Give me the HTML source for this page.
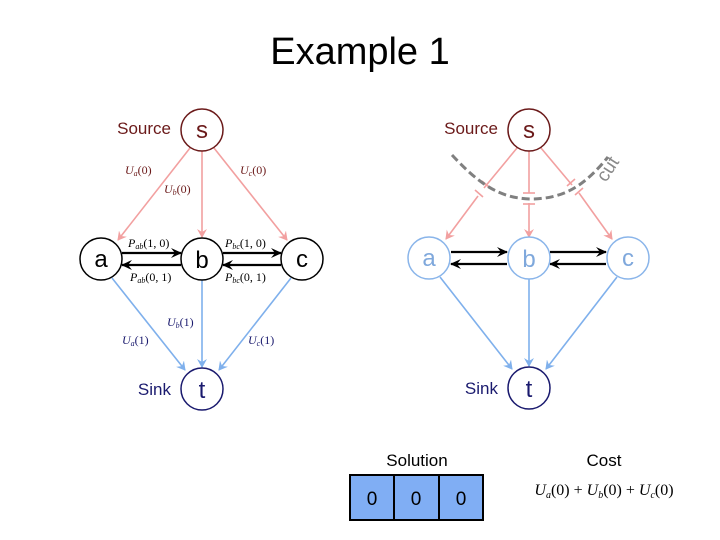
<!DOCTYPE html>
<html><head><meta charset="utf-8"><style>
html,body{margin:0;padding:0;background:#fff;}
svg{display:block;}
</style></head><body>
<svg width="720" height="540" viewBox="0 0 720 540" xmlns="http://www.w3.org/2000/svg" font-family="Liberation Sans, sans-serif">
<defs>
<marker id="ap" markerWidth="10" markerHeight="10" refX="8" refY="5" orient="auto" markerUnits="userSpaceOnUse"><path d="M0,0 L9,5 L0,10 L3,5 z" fill="#f2a0a0"/></marker>
<marker id="ab" markerWidth="10" markerHeight="10" refX="8" refY="5" orient="auto" markerUnits="userSpaceOnUse"><path d="M0,0 L9,5 L0,10 L3,5 z" fill="#7fb0ec"/></marker>
<marker id="ak" markerWidth="12" markerHeight="10" refX="10" refY="5" orient="auto" markerUnits="userSpaceOnUse"><path d="M0,0 L11,5 L0,10 L4,5 z" fill="#000"/></marker>
</defs>
<text x="360" y="64" font-size="38" text-anchor="middle" font-family="Liberation Sans, sans-serif" fill="#000">Example 1</text>

<!-- LEFT GRAPH -->
<g stroke-width="1.6" fill="none">
<line x1="190" y1="148" x2="118" y2="240" stroke="#f2a0a0" marker-end="url(#ap)"/>
<line x1="202" y1="151" x2="202" y2="237" stroke="#f2a0a0" marker-end="url(#ap)"/>
<line x1="214" y1="148" x2="287" y2="240" stroke="#f2a0a0" marker-end="url(#ap)"/>
<line x1="112" y1="278" x2="185" y2="370" stroke="#7fb0ec" marker-end="url(#ab)"/>
<line x1="202" y1="280" x2="202" y2="367" stroke="#7fb0ec" marker-end="url(#ab)"/>
<line x1="291" y1="278" x2="219" y2="370" stroke="#7fb0ec" marker-end="url(#ab)"/>
<line x1="122" y1="253" x2="181" y2="253" stroke="#000" stroke-width="2.2" marker-end="url(#ak)"/>
<line x1="181" y1="265" x2="122" y2="265" stroke="#000" stroke-width="2.2" marker-end="url(#ak)"/>
<line x1="223" y1="253" x2="281" y2="253" stroke="#000" stroke-width="2.2" marker-end="url(#ak)"/>
<line x1="281" y1="265" x2="223" y2="265" stroke="#000" stroke-width="2.2" marker-end="url(#ak)"/>
</g>
<g fill="#fff" stroke-width="1.5">
<circle cx="202" cy="130" r="21" stroke="#6b1a1a"/>
<circle cx="101" cy="259" r="21" stroke="#000"/>
<circle cx="202" cy="259" r="21" stroke="#000"/>
<circle cx="302" cy="259" r="21" stroke="#000"/>
<circle cx="202" cy="389" r="21" stroke="#1a1a6e"/>
</g>
<g font-size="24" text-anchor="middle">
<text x="202" y="138" fill="#6b1a1a">s</text>
<text x="101" y="267" fill="#000">a</text>
<text x="202" y="268" fill="#000">b</text>
<text x="302" y="267" fill="#000">c</text>
<text x="202" y="398" fill="#1a1a6e">t</text>
</g>
<text x="171" y="134" font-size="17" text-anchor="end" fill="#6b1a1a">Source</text>
<text x="171" y="395" font-size="17" text-anchor="end" fill="#1a1a6e">Sink</text>
<g font-family="Liberation Serif, serif" font-style="italic" font-size="12">
<text x="125" y="174" fill="#6b1a1a">U<tspan font-size="8" dy="2">a</tspan><tspan dy="-2" font-style="normal">(0)</tspan></text>
<text x="164" y="193" fill="#6b1a1a">U<tspan font-size="8" dy="2">b</tspan><tspan dy="-2" font-style="normal">(0)</tspan></text>
<text x="240" y="174" fill="#6b1a1a">U<tspan font-size="8" dy="2">c</tspan><tspan dy="-2" font-style="normal">(0)</tspan></text>
<text x="128" y="247" fill="#000">P<tspan font-size="8" dy="2">ab</tspan><tspan dy="-2" font-style="normal">(1, 0)</tspan></text>
<text x="130" y="281" fill="#000">P<tspan font-size="8" dy="2">ab</tspan><tspan dy="-2" font-style="normal">(0, 1)</tspan></text>
<text x="225" y="247" fill="#000">P<tspan font-size="8" dy="2">bc</tspan><tspan dy="-2" font-style="normal">(1, 0)</tspan></text>
<text x="225" y="281" fill="#000">P<tspan font-size="8" dy="2">bc</tspan><tspan dy="-2" font-style="normal">(0, 1)</tspan></text>
<text x="167" y="326" fill="#1a1a6e">U<tspan font-size="8" dy="2">b</tspan><tspan dy="-2" font-style="normal">(1)</tspan></text>
<text x="122" y="344" fill="#1a1a6e">U<tspan font-size="8" dy="2">a</tspan><tspan dy="-2" font-style="normal">(1)</tspan></text>
<text x="248" y="344" fill="#1a1a6e">U<tspan font-size="8" dy="2">c</tspan><tspan dy="-2" font-style="normal">(1)</tspan></text>
</g>

<!-- RIGHT GRAPH -->
<g stroke-width="1.6" fill="none">
<line x1="517" y1="148" x2="484" y2="188" stroke="#f2a0a0"/>
<line x1="478" y1="196" x2="446" y2="239" stroke="#f2a0a0" marker-end="url(#ap)"/>
<line x1="482" y1="181" x2="490" y2="188" stroke="#f2a0a0"/>
<line x1="475" y1="190" x2="483" y2="197" stroke="#f2a0a0"/>
<line x1="529" y1="150" x2="529" y2="193" stroke="#f2a0a0"/>
<line x1="529" y1="203" x2="529" y2="237" stroke="#f2a0a0" marker-end="url(#ap)"/>
<line x1="523" y1="193" x2="535" y2="193" stroke="#f2a0a0"/>
<line x1="523" y1="204" x2="535" y2="204" stroke="#f2a0a0"/>
<line x1="541" y1="148" x2="572" y2="185" stroke="#f2a0a0"/>
<line x1="579" y1="193" x2="612" y2="239" stroke="#f2a0a0" marker-end="url(#ap)"/>
<line x1="567" y1="186" x2="575" y2="179" stroke="#f2a0a0"/>
<line x1="575" y1="195" x2="583" y2="188" stroke="#f2a0a0"/>
<path d="M452,155 C480,185 500,198 530,199 C565,199 585,185 608,157" stroke="#808080" stroke-width="3" stroke-dasharray="8,4"/>
<line x1="440" y1="277" x2="512" y2="369" stroke="#7fb0ec" marker-end="url(#ab)"/>
<line x1="529" y1="279" x2="529" y2="366" stroke="#7fb0ec" marker-end="url(#ab)"/>
<line x1="617" y1="277" x2="546" y2="369" stroke="#7fb0ec" marker-end="url(#ab)"/>
<line x1="451" y1="252" x2="507" y2="252" stroke="#000" stroke-width="2.2" marker-end="url(#ak)"/>
<line x1="507" y1="264" x2="451" y2="264" stroke="#000" stroke-width="2.2" marker-end="url(#ak)"/>
<line x1="550" y1="252" x2="606" y2="252" stroke="#000" stroke-width="2.2" marker-end="url(#ak)"/>
<line x1="606" y1="264" x2="550" y2="264" stroke="#000" stroke-width="2.2" marker-end="url(#ak)"/>
</g>
<text x="0" y="0" font-size="19" fill="#8a8a8a" transform="translate(606,183) rotate(-57)">cut</text>
<g fill="#fff" stroke-width="1.5">
<circle cx="529" cy="130" r="21" stroke="#6b1a1a"/>
<circle cx="429" cy="258" r="21" stroke="#8ab5ea"/>
<circle cx="529" cy="258" r="21" stroke="#8ab5ea"/>
<circle cx="628" cy="258" r="21" stroke="#8ab5ea"/>
<circle cx="529" cy="388" r="21" stroke="#1a1a6e"/>
</g>
<g font-size="24" text-anchor="middle">
<text x="529" y="138" fill="#6b1a1a">s</text>
<text x="429" y="266" fill="#7fa8dc">a</text>
<text x="529" y="267" fill="#7fa8dc">b</text>
<text x="628" y="266" fill="#7fa8dc">c</text>
<text x="529" y="397" fill="#1a1a6e">t</text>
</g>
<text x="498" y="134" font-size="17" text-anchor="end" fill="#6b1a1a">Source</text>
<text x="498" y="394" font-size="17" text-anchor="end" fill="#1a1a6e">Sink</text>

<!-- Bottom -->
<text x="417" y="466" font-size="17" text-anchor="middle" fill="#000">Solution</text>
<g stroke="#000" stroke-width="2" fill="#80aef4">
<rect x="350" y="475" width="44" height="45"/>
<rect x="394" y="475" width="45" height="45"/>
<rect x="439" y="475" width="44" height="45"/>
</g>
<g font-size="19" text-anchor="middle" fill="#000">
<text x="372" y="505">0</text><text x="416" y="505">0</text><text x="461" y="505">0</text>
</g>
<text x="604" y="466" font-size="17" text-anchor="middle" fill="#000">Cost</text>
<text x="604" y="495" font-size="16" text-anchor="middle" font-family="Liberation Serif, serif" fill="#000"><tspan font-style="italic">U</tspan><tspan font-size="10" dy="3" font-style="italic">a</tspan><tspan dy="-3">(0) + </tspan><tspan font-style="italic">U</tspan><tspan font-size="10" dy="3" font-style="italic">b</tspan><tspan dy="-3">(0) + </tspan><tspan font-style="italic">U</tspan><tspan font-size="10" dy="3" font-style="italic">c</tspan><tspan dy="-3">(0)</tspan></text>
</svg>
</body></html>
